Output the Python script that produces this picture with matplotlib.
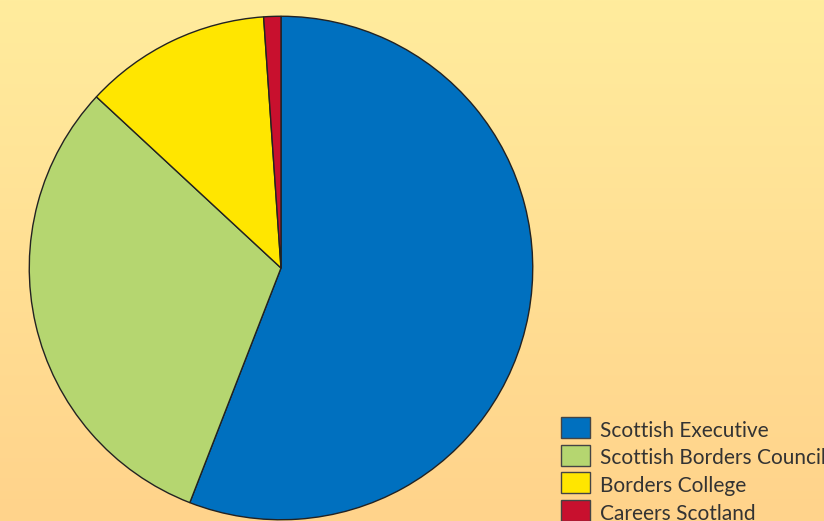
import matplotlib.pyplot as plt
import matplotlib.colors as mcolors
import numpy as np

# Data
labels = ['Scottish Executive', 'Scottish Borders Council', 'Borders College', 'Careers Scotland']
shares = [55.9, 31.0, 12.0, 1.1]
colors = ['#0070BF', '#B5D670', '#FFE600', '#C8102E']

W, H = 824, 521
fig = plt.figure(figsize=(W / 100, H / 100), dpi=100)

# gradient background
bg = fig.add_axes([0, 0, 1, 1])
cmap = mcolors.LinearSegmentedColormap.from_list('bg', ['#FFEC9D', '#FFD38B'])
bg.imshow(np.linspace(0, 1, 256).reshape(-1, 1), aspect='auto', cmap=cmap,
          extent=[0, 1, 0, 1], origin='upper')
bg.set_xlim(0, 1)
bg.set_ylim(0, 1)
bg.set_axis_off()

# pie
cx, cy, r = 281, H - 268, 253
ax = fig.add_axes([(cx - r) / W, (cy - r) / H, 2 * r / W, 2 * r / H])
ax.pie(shares, colors=colors, startangle=90, counterclock=False, radius=1,
       wedgeprops=dict(edgecolor='#222222', linewidth=1.0))
ax.set_xlim(-1.005, 1.005)
ax.set_ylim(-1.005, 1.005)
ax.set_aspect('equal')
ax.set_axis_off()

# legend
for i, (lab, col) in enumerate(zip(labels, colors)):
    top = 417 + i * 27.5
    bg.add_patch(plt.Rectangle((561 / W, 1 - (top + 21) / H), 29 / W, 21 / H,
                               facecolor=col, edgecolor='#444444', lw=1))
    bg.text(600 / W, 1 - (top + 14) / H, lab, fontsize=15, family='Lato',
            color='#333333', va='center', ha='left', zorder=5)

fig.savefig('out.png', dpi=100)
